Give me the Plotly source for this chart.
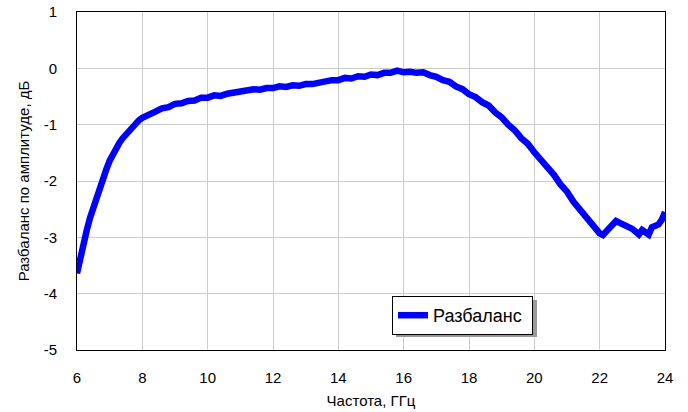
import plotly.graph_objects as go

freq = [6.0, 6.1, 6.2, 6.3, 6.4, 6.5, 6.6, 6.7, 6.8, 6.9, 7.0, 7.1, 7.2, 7.3, 7.4, 7.5, 7.6, 7.7, 7.8, 7.9,
        8.0, 8.2, 8.4, 8.6, 8.8, 9.0, 9.2, 9.4, 9.6, 9.8, 10.0, 10.2, 10.4, 10.6, 10.8, 11.0, 11.2, 11.4, 11.6, 11.8,
        12.0, 12.2, 12.4, 12.6, 12.8, 13.0, 13.2, 13.4, 13.6, 13.8, 14.0, 14.2, 14.4, 14.6, 14.8, 15.0, 15.2, 15.4,
        15.6, 15.8, 16.0, 16.2, 16.4, 16.6, 16.8, 17.0, 17.2, 17.4, 17.6, 17.8, 18.0, 18.2, 18.4, 18.6, 18.8, 19.0,
        19.2, 19.4, 19.6, 19.8, 20.0, 20.2, 20.4, 20.6, 20.8, 21.0, 21.2, 21.4, 21.6, 21.8, 22.0, 22.1, 22.2, 22.4,
        22.5, 22.6, 22.8, 23.0, 23.2, 23.3, 23.5, 23.6, 23.8, 23.9, 24.0]
imbalance = [-3.64, -3.35, -3.10, -2.87, -2.65, -2.46, -2.28, -2.10, -1.94, -1.79, -1.64, -1.52, -1.41, -1.32, -1.24,
             -1.17, -1.09, -1.03, -0.97, -0.92, -0.88, -0.81, -0.77, -0.71, -0.69, -0.63, -0.62, -0.58, -0.57, -0.52,
             -0.52, -0.48, -0.49, -0.45, -0.43, -0.41, -0.40, -0.37, -0.38, -0.35, -0.35, -0.32, -0.33, -0.30, -0.31,
             -0.28, -0.28, -0.25, -0.24, -0.21, -0.21, -0.17, -0.18, -0.14, -0.15, -0.11, -0.12, -0.08, -0.08, -0.04,
             -0.07, -0.06, -0.08, -0.07, -0.12, -0.15, -0.21, -0.24, -0.32, -0.37, -0.46, -0.51, -0.60, -0.66, -0.78,
             -0.87, -1.00, -1.10, -1.24, -1.34, -1.49, -1.61, -1.77, -1.89, -2.06, -2.19, -2.37, -2.51, -2.67, -2.79,
             -2.93, -2.96, -2.90, -2.80, -2.71, -2.74, -2.79, -2.85, -2.95, -2.87, -2.95, -2.82, -2.77, -2.69, -2.55]

x_ticks = [6, 8, 10, 12, 14, 16, 18, 20, 22, 24]
y_ticks = [1, 0, -1, -2, -3, -4, -5]

font_family = "Liberation Sans, Arial, sans-serif"

fig = go.Figure()
fig.add_trace(go.Scatter(x=freq, y=imbalance, mode="lines", name="Разбаланс\u00a0",
                         line=dict(color="#0000FF", width=6.5)))

# legend shadow
fig.add_shape(type="rect", xref="paper", yref="paper",
              x0=(396 - 77) / 588, x1=(537 - 77) / 588,
              y0=(350 - 337) / 338, y1=(350 - 300) / 338,
              fillcolor="#9a9a9a", line=dict(width=0), layer="above")

fig.update_layout(
    width=688, height=412,
    margin=dict(l=77, r=23, t=12, b=62),
    paper_bgcolor="white", plot_bgcolor="white",
    font=dict(family=font_family, size=15, color="black"),
    showlegend=True,
    legend=dict(x=(392 - 77) / 588, y=(350 - 296) / 338, xanchor="left", yanchor="top",
                bgcolor="white", bordercolor="black", borderwidth=1,
                font=dict(size=18, family=font_family)),
    xaxis=dict(range=[6, 24], tickvals=x_ticks, ticktext=[str(v) for v in x_ticks],
               showgrid=True, gridcolor="#CCCCCC", gridwidth=1,
               showline=True, linecolor="black", linewidth=1, mirror=True, zeroline=False,
               ticks="", ticklabelstandoff=14, automargin=False,
               title=dict(text="Частота, ГГц", font=dict(size=15), standoff=10)),
    yaxis=dict(range=[-5, 1], tickvals=y_ticks, ticktext=[str(v) for v in y_ticks],
               showgrid=True, gridcolor="#CCCCCC", gridwidth=1,
               showline=True, linecolor="black", linewidth=1, mirror=True, zeroline=False,
               ticks="", ticklabelstandoff=16, automargin=False,
               title=dict(text="Разбаланс по амплитуде, дБ", font=dict(size=15), standoff=10)),
)

fig.write_html("out.html")
